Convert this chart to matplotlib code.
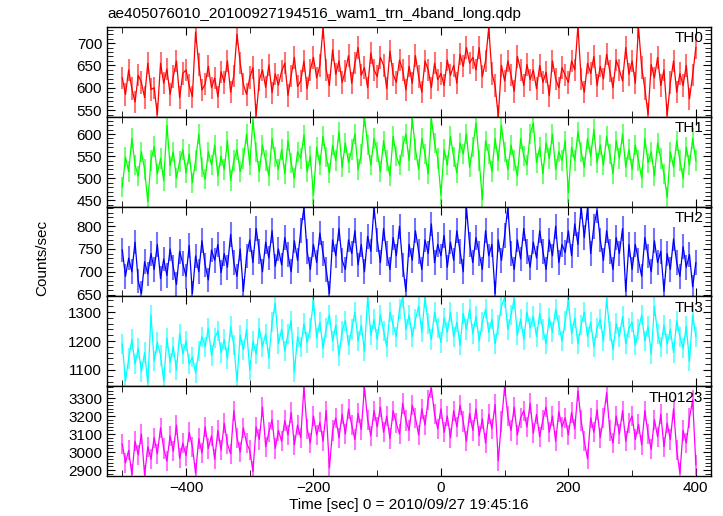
import matplotlib
matplotlib.use("Agg")
import matplotlib.pyplot as plt
from matplotlib.ticker import MultipleLocator
import numpy as np

plt.rcParams['font.family'] = ['Liberation Sans', 'DejaVu Sans']
plt.rcParams['font.size'] = 11

# time bins, 5 s each, from -500 s to +400 s
time = np.arange(-500, 401, 5)

th0 = [622, 585, 640, 598, 568, 628, 612, 578, 655, 596,
       600, 540, 655, 610, 642, 585, 625, 660, 578, 632,
       640, 605, 580, 725, 652, 595, 608, 648, 600, 622,
       580, 636, 612, 660, 590, 627, 720, 655, 608, 585,
       623, 645, 538, 617, 640, 601, 651, 589, 631, 606,
       637, 655, 583, 627, 668, 603, 615, 660, 598, 640,
       668, 622, 650, 735, 640, 605, 685, 630, 660, 612,
       638, 672, 610, 655, 690, 628, 645, 600, 678, 640,
       625, 668, 650, 598, 682, 630, 612, 662, 640, 595,
       648, 610, 672, 625, 590, 660, 640, 600, 655, 618,
       632, 605, 662, 628, 650, 610, 675, 648, 690, 655,
       668, 640, 690, 625, 660, 735, 632, 605, 536, 650,
       615, 660, 628, 592, 670, 640, 605, 652, 618, 640,
       598, 650, 612, 635, 582, 660, 620, 600, 645, 628,
       612, 660, 640, 738, 620, 590, 655, 632, 670, 605,
       648, 620, 675, 638, 600, 662, 640, 615, 690, 630,
       660, 610, 736, 645, 598, 540, 652, 622, 668, 605,
       640, 538, 612, 660, 590, 632, 605, 650, 575, 628,
       690]

th1 = [480, 548, 515, 590, 530, 505, 560, 520, 447, 540,
       572, 510, 545, 495, 620, 528, 560, 500, 538, 565,
       512, 555, 490, 540, 600, 525, 498, 560, 530, 575,
       505, 550, 520, 585, 495, 540, 565, 515, 545, 600,
       530, 632, 560, 515, 575, 540, 505, 590, 548, 520,
       565, 510, 585, 535, 500, 560, 545, 598, 515, 550,
       462, 570, 530, 595, 548, 512, 575, 540, 605, 525,
       580, 535, 565, 600, 520, 555, 640, 575, 530, 590,
       560, 515, 585, 540, 505, 595, 550, 530, 572, 600,
       540, 635, 565, 520, 590, 555, 510, 635, 580, 545,
       462, 565, 530, 595, 548, 512, 580, 555, 600, 525,
       570, 625, 540, 452, 585, 555, 515, 590, 540, 620,
       560, 520, 575, 540, 505, 590, 550, 530, 600, 625,
       535, 570, 510, 580, 545, 600, 520, 560, 540, 585,
       467, 570, 540, 605, 560, 525, 590, 550, 610, 535,
       575, 530, 595, 555, 510, 585, 545, 600, 525, 565,
       520, 575, 540, 500, 590, 535, 560, 505, 580, 545,
       510, 457, 560, 525, 585, 540, 500, 570, 530, 590,
       540]

th2 = [748, 690, 730, 700, 765, 680, 652, 722, 695, 740,
       705, 760, 685, 728, 692, 750, 710, 672, 745, 718,
       690, 758, 652, 735, 700, 768, 715, 682, 748, 725,
       760, 698, 740, 710, 782, 720, 690, 750, 657, 735,
       770, 720, 795, 745, 700, 765, 730, 790, 712, 750,
       715, 775, 738, 700, 768, 725, 790, 840, 745, 705,
       760, 720, 785, 740, 705, 652, 770, 735, 795, 725,
       705, 770, 740, 790, 715, 760, 700, 778, 745, 842,
       770, 720, 795, 740, 705, 775, 735, 800, 715, 657,
       760, 725, 790, 745, 705, 770, 740, 805, 720, 760,
       735, 780, 710, 765, 725, 790, 745, 700, 842, 760,
       720, 775, 740, 705, 790, 735, 760, 652, 770, 725,
       780, 842, 740, 705, 770, 728, 795, 745, 710, 765,
       730, 790, 745, 705, 770, 735, 800, 720, 760, 742,
       790, 735, 805, 760, 842, 775, 840, 740, 800, 835,
       770, 725, 790, 745, 705, 775, 740, 795, 657, 760,
       705, 760, 725, 690, 775, 735, 700, 768, 720, 745,
       657, 740, 705, 772, 720, 690, 755, 710, 738, 667,
       720]

th3 = [1190, 1062, 1140, 1205, 1120, 1175, 1095, 1160, 1055, 1290,
       1130, 1195, 1150, 1062, 1210, 1125, 1180, 1100, 1225, 1155,
       1200, 1120, 1145, 1090, 1165, 1215, 1180, 1245, 1150, 1210,
       1235, 1160, 1205, 1140, 1250, 1185, 1062, 1220, 1170, 1240,
       1100, 1200, 1155, 1245, 1180, 1225, 1140, 1265, 1330, 1190,
       1240, 1165, 1225, 1270, 1092, 1215, 1180, 1260, 1195, 1245,
       1340, 1210, 1265, 1175, 1245, 1290, 1200, 1255, 1150, 1235,
       1270, 1185, 1240, 1300, 1200, 1255, 1165, 1350, 1220, 1275,
       1205, 1290, 1235, 1180, 1300, 1255, 1215, 1310, 1350, 1240,
       1290, 1215, 1275, 1320, 1230, 1350, 1260, 1205, 1300, 1245,
       1195, 1280, 1230, 1300, 1215, 1265, 1185, 1295, 1240, 1310,
       1225, 1285, 1200, 1265, 1310, 1230, 1275, 1190, 1255, 1320,
       1350, 1240, 1290, 1345, 1220, 1275, 1205, 1300, 1245, 1285,
       1215, 1295, 1240, 1190, 1280, 1230, 1310, 1255, 1200, 1270,
       1340, 1225, 1280, 1190, 1255, 1300, 1215, 1265, 1180, 1245,
       1275, 1200, 1345, 1235, 1170, 1260, 1215, 1285, 1190, 1245,
       1265, 1185, 1240, 1290, 1200, 1250, 1155, 1320, 1225, 1180,
       1255, 1190, 1240, 1160, 1270, 1215, 1175, 1250, 1130, 1290,
       1215]

th0123 = [3045, 2940, 3010, 2875, 3060, 2985, 3100, 2872, 3030, 2960,
          3080, 2990, 3135, 3020, 2950, 3090, 3005, 3150, 2965, 3050,
          2980, 3110, 3030, 2882, 3075, 2995, 3140, 3020, 3090, 2960,
          3120, 3010, 3160, 3045, 2990, 3230, 3080, 3000, 3135, 3050,
          3010, 2892, 3140, 3070, 3250, 3030, 3110, 3180, 3020, 3120,
          3060, 3175, 3095, 3220, 3040, 3150, 3080, 3360, 3130, 3050,
          3200, 3095, 3165, 3060, 3230, 2912, 3120, 3190, 3080, 3210,
          3100, 3240, 3150, 3070, 3215, 3125, 3360, 3180, 3090, 3230,
          3140, 3250, 3110, 3200, 3075, 3230, 3160, 3100, 3270, 3175,
          3120, 3260, 3190, 3095, 3240, 3150, 3290, 3355, 3210, 3130,
          3240, 3110, 3200, 3080, 3230, 3140, 3260, 3170, 3060, 3215,
          3120, 3240, 3090, 3185, 3050, 3210, 3130, 3265, 2952, 3170,
          3365, 3200, 3120, 3250, 3095, 3190, 3230, 3140, 3270, 3105,
          3210, 3085, 3180, 3250, 3110, 3200, 3060, 3225, 3140, 3190,
          3095, 3220, 3130, 3340, 3175, 3060, 2962, 3190, 3110, 3235,
          3080, 3190, 3330, 3120, 3050, 3200, 3100, 3230, 3060, 3160,
          3200, 3070, 3155, 3040, 3230, 3100, 3015, 3180, 3085, 3210,
          3030, 3160, 3070, 3240, 3010, 2882, 3120, 3050, 3190, 3290,
          2930]

names = ["TH0", "TH1", "TH2", "TH3", "TH0123"]
series = [th0, th1, th2, th3, th0123]
errors = [25, 23, 27, 35, 56]
colors = ["#ff0000", "#00ff00", "#0000ff", "#00ffff", "#ff00ff"]
ylims = [(535, 736), (436, 639), (646, 843), (1044, 1354), (2867, 3366)]
ymajor = [50, 50, 50, 100, 100]
yminor = [10, 10, 10, 20, 20]

fig = plt.figure(figsize=(7.23, 5.16), dpi=100)

left, right = 107 / 723, 710.5 / 723
top, bottom = 1 - 27 / 516, 1 - 476 / 516
h = (top - bottom) / 5

axes = []
for i in range(5):
    ax = fig.add_axes([left, top - (i + 1) * h, right - left, h],
                      sharex=axes[0] if axes else None)
    axes.append(ax)
    y = np.array(series[i])
    # pale error bars under the light curve
    ax.vlines(time, y - errors[i], y + errors[i], color=colors[i], alpha=0.55, lw=1.5)
    ax.plot(time, y, color=colors[i], lw=0.9)
    ax.set_ylim(*ylims[i])
    ax.yaxis.set_major_locator(MultipleLocator(ymajor[i]))
    ax.yaxis.set_minor_locator(MultipleLocator(yminor[i]))
    ax.xaxis.set_major_locator(MultipleLocator(200))
    ax.xaxis.set_minor_locator(MultipleLocator(100))
    ax.tick_params(which='both', direction='in', top=True, right=True, labelsize=11)
    ax.tick_params(which='major', length=6)
    ax.tick_params(which='minor', length=4)
    for s in ax.spines.values():
        s.set_linewidth(1.0)
    if i < 4:
        ax.tick_params(labelbottom=False)
    ax.text(0.988, 0.95, names[i], transform=ax.transAxes, ha='right', va='top', fontsize=11)

axes[0].set_xlim(-524, 423)
axes[-1].set_xlabel("Time [sec] 0 = 2010/09/27 19:45:16", fontsize=11, labelpad=2)
fig.text(0.058, 0.5, "Counts/sec", rotation=90, ha='center', va='center', fontsize=11)
fig.text(left, 1 - 14 / 516, "ae405076010_20100927194516_wam1_trn_4band_long.qdp",
         ha='left', va='center', fontsize=11)

fig.savefig("out.png", dpi=100)
